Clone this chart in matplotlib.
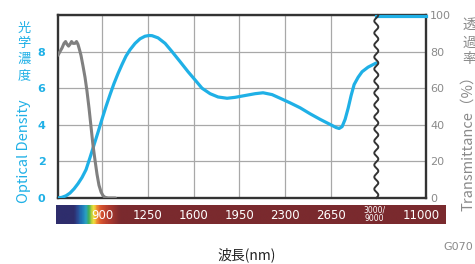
import numpy as np
import matplotlib
matplotlib.use("Agg")
import matplotlib.pyplot as plt
from matplotlib.colors import LinearSegmentedColormap
from matplotlib import transforms
from matplotlib.lines import Line2D

# ---------------- data ----------------
od_wl = [560, 591, 621, 652, 683, 713, 744, 775, 805, 836, 867, 897, 928, 959,
         989, 1020, 1051, 1081, 1112, 1151, 1189, 1227, 1258, 1281, 1327, 1381,
         1434, 1496, 1557, 1611, 1664, 1726, 1787, 1856, 1917, 1994, 2071, 2132,
         2201, 2263, 2339, 2416, 2493, 2569, 2646, 2692, 2715, 2738, 2761, 2784,
         2807, 2830, 2861, 2891, 2937, 3000]
od_val = [0.0, 0.04, 0.12, 0.27, 0.5, 0.78, 1.12, 1.55, 2.2, 2.9, 3.6, 4.3, 5.0,
          5.65, 6.25, 6.8, 7.3, 7.75, 8.1, 8.45, 8.7, 8.84, 8.88, 8.87, 8.75,
          8.45, 8.0, 7.45, 6.9, 6.45, 6.0, 5.7, 5.52, 5.45, 5.5, 5.6, 5.7, 5.75,
          5.65, 5.45, 5.2, 4.93, 4.6, 4.3, 4.02, 3.85, 3.8, 3.9, 4.3, 4.9, 5.6,
          6.2, 6.6, 6.9, 7.15, 7.38]
od_far_wl = [9000, 11000]
od_far_val = [9.93, 9.93]

tr_wl = [560, 575, 591, 606, 618, 629, 641, 652, 664, 675, 690, 702, 713, 725,
         736, 752, 767, 782, 798, 813, 828, 844, 859, 874, 890, 905, 920, 943, 1000]
tr_val = [78, 80, 82, 84.5, 85.5, 84, 83, 84, 85.5, 84.5, 84.5, 85.5, 84, 81,
          78, 72, 66, 58.5, 49, 39, 29, 20.5, 13, 7, 3.3, 1.3, 0.4, 0, 0]

grid_wl = [900, 1250, 1600, 1950, 2300, 2650]
bar_labels = ["900", "1250", "1600", "1950", "2300", "2650"]
od_ticks = [0, 2, 4, 6, 8]
tr_ticks = [0, 20, 40, 60, 80, 100]

BLUE = "#1fb0e6"
GRAY = "#808080"
FRAME = "#333333"
GRID = "#a8a8a8"
TXT_GRAY = "#8a8a8a"

# ---------------- broken x scale ----------------
EPS = 1e-6
K = 0.1905


def fwd(x):
    x = np.asarray(x, dtype=float)
    return np.where(x <= 3000, x,
                    np.where(x < 9000, 3000 + (x - 3000) * EPS,
                             3000 + 6000 * EPS + (x - 9000) * K))


def inv(y):
    y = np.asarray(y, dtype=float)
    return np.where(y <= 3000, y,
                    np.where(y < 3000 + 6000 * EPS, 3000 + (y - 3000) / EPS,
                             9000 + (y - 3000 - 6000 * EPS) / K))


plt.rcParams['font.family'] = ['DejaVu Sans']
fig = plt.figure(figsize=(4.75, 2.64), dpi=100)
W, H = 475, 264
ax = fig.add_axes([58 / W, 66 / H, 368 / W, 183 / H])
ax.set_xscale('function', functions=(fwd, inv))
ax.set_xlim(560, 11000)
ax.set_ylim(0, 10)

ax.set_xticks(grid_wl)
ax.set_xticklabels([])
ax.set_yticks([0, 2, 4, 6, 8, 10])
ax.set_yticklabels([str(t) for t in od_ticks] + [""])
ax.tick_params(axis='x', length=0)
ax.tick_params(axis='y', length=0, pad=9, labelcolor=BLUE, labelsize=8)
for lab in ax.get_yticklabels():
    lab.set_fontweight('bold')
ax.grid(True, color=GRID, linewidth=0.9)
ax.set_axisbelow(True)
for s in ax.spines.values():
    s.set_color(FRAME)
    s.set_linewidth(1.7)

ax2 = ax.twinx()
ax2.set_ylim(0, 100)
ax2.set_yticks(tr_ticks)
ax2.tick_params(axis='y', length=0, pad=3, labelcolor=TXT_GRAY, labelsize=8)
for s in ax2.spines.values():
    s.set_visible(False)

ax2.plot(tr_wl, tr_val, color=GRAY, lw=2.2, solid_capstyle='round',
         solid_joinstyle='round', zorder=3)
ax.plot(od_wl, od_val, color=BLUE, lw=2.3, solid_capstyle='round',
        solid_joinstyle='round', zorder=4)
ax.plot(od_far_wl, od_far_val, color=BLUE, lw=2.3, zorder=4, clip_on=False)

# wavy break line
x0 = ax.transData.transform((3000, 0))[0]
yb = ax.transAxes.transform((0, 0))[1]
yt = ax.transAxes.transform((0, 1))[1]
yy = np.linspace(yb, yt, 600)
xx = x0 + 2.0 * np.sin(2 * np.pi * (yy - yb) / 12.0)
fig.add_artist(Line2D(xx / W, yy / H, transform=fig.transFigure,
                      color=FRAME, lw=1.4, zorder=10))

# colour bar
cax = fig.add_axes([56 / W, 40 / H, 390 / W, 19 / H])
px = [56, 73, 77, 81, 85, 88, 91, 93, 96, 100, 108, 120, 446]
cols = ["#2e2d6c", "#2e2d6c", "#2b4a95", "#1f78b8", "#2aa0c2", "#3faf5c",
        "#b8d03c", "#f2df3c", "#f08c30", "#d9552f", "#b03a2e", "#7a2a2e", "#7a2a2e"]
pos = [(p - 56) / 390 for p in px]
cmap = LinearSegmentedColormap.from_list("spec", list(zip(pos, cols)))
cax.imshow(np.linspace(0, 1, 800)[None, :], aspect='auto', cmap=cmap,
           extent=[0, 1, 0, 1])
cax.set_xlim(0, 1)
cax.set_ylim(0, 1)
cax.axis('off')

btr = transforms.blended_transform_factory(ax.transData, cax.transAxes)
for wl, lab in zip(grid_wl, bar_labels):
    fig.text(wl, 0.45, lab, transform=btr, ha='center', va='center',
             color='white', fontsize=8.5)
fig.text(2985, 0.5, "3000/\n9000", transform=btr, ha='center', va='center',
         color='white', fontsize=5.5, linespacing=0.9)
fig.text(10800, 0.45, "11000", transform=btr, ha='center', va='center',
         color='white', fontsize=8.5)

# axis titles
CJK = ['Noto Sans CJK JP']
fig.text(24 / W, 1 - 151 / H, "Optical Density", rotation=90, ha='center',
         va='center', color=BLUE, fontsize=10.5, family=CJK)
for ch, yc in zip("光学濃度", [27, 42.5, 58, 74]):
    fig.text(24 / W, 1 - yc / H, ch, ha='center', va='center_baseline',
             color=BLUE, fontsize=9.5, family=CJK)
fig.text(468 / W, 1 - 140 / H, "Transmittance（%）", rotation=90, ha='center',
         va='center', color=TXT_GRAY, fontsize=10.5, family=CJK)
for ch, yc in zip("透過率", [23, 41, 58]):
    fig.text(469 / W, 1 - yc / H, ch, ha='center', va='center_baseline',
             color=TXT_GRAY, fontsize=10, family=CJK)
fig.text(247 / W, 1 - 255 / H, "波長(nm)", ha='center', va='center',
         color='#222222', fontsize=10, family=CJK)
fig.text(443 / W, 1 - 247 / H, "G070", ha='left', va='center',
         color=TXT_GRAY, fontsize=8)

fig.savefig("out.png", dpi=100)
